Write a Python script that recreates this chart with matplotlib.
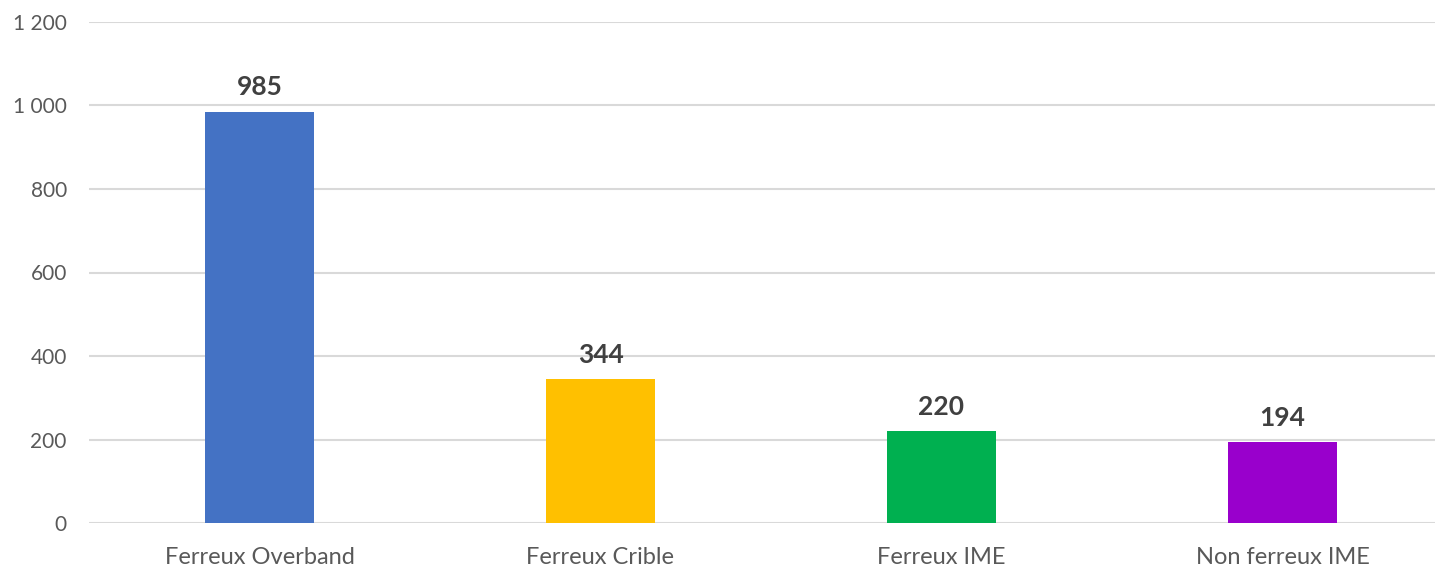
import matplotlib.pyplot as plt
from matplotlib.ticker import FuncFormatter, MultipleLocator

categories = ['Ferreux Overband', 'Ferreux Crible', 'Ferreux IME', 'Non ferreux IME']
values = [985, 344, 220, 194]
colors = ['#4472C4', '#FFC000', '#00B050', '#9900CC']

plt.rcParams['font.family'] = ['Lato', 'DejaVu Sans']

W, H = 1435, 569
slot = 341          # pixels per category
left = 89
right = W + 60      # let the axes run past the right edge

fig = plt.figure(figsize=(W / 100, H / 100), dpi=100)
ax = fig.add_axes([left / W, 46 / H, (right - left) / W, 501 / H])

x = range(len(categories))
bars = ax.bar(x, values, width=0.32, color=colors, zorder=3)

for rect, v in zip(bars, values):
    ax.annotate(str(v), (rect.get_x() + rect.get_width() / 2, v),
                xytext=(0, 9), textcoords='offset points',
                ha='center', va='bottom', fontsize=19, fontweight='bold',
                color='#404040')

ax.set_xlim(-0.5, -0.5 + (right - left) / slot)
ax.set_ylim(0, 1200)
ax.yaxis.set_major_locator(MultipleLocator(200))
ax.yaxis.set_major_formatter(FuncFormatter(lambda v, p: f'{int(v):,}'.replace(',', ' ')))
ax.set_xticks(list(x))
ax.set_xticklabels(categories)

ax.grid(axis='y', color='#D9D9D9', linewidth=1.5, zorder=0)
ax.set_axisbelow(True)
for s in ax.spines.values():
    s.set_visible(False)
ax.tick_params(axis='both', length=0, colors='#595959')
ax.tick_params(axis='y', pad=16, labelsize=15)
ax.tick_params(axis='x', pad=17, labelsize=17)

fig.savefig('out.png', dpi=100)
